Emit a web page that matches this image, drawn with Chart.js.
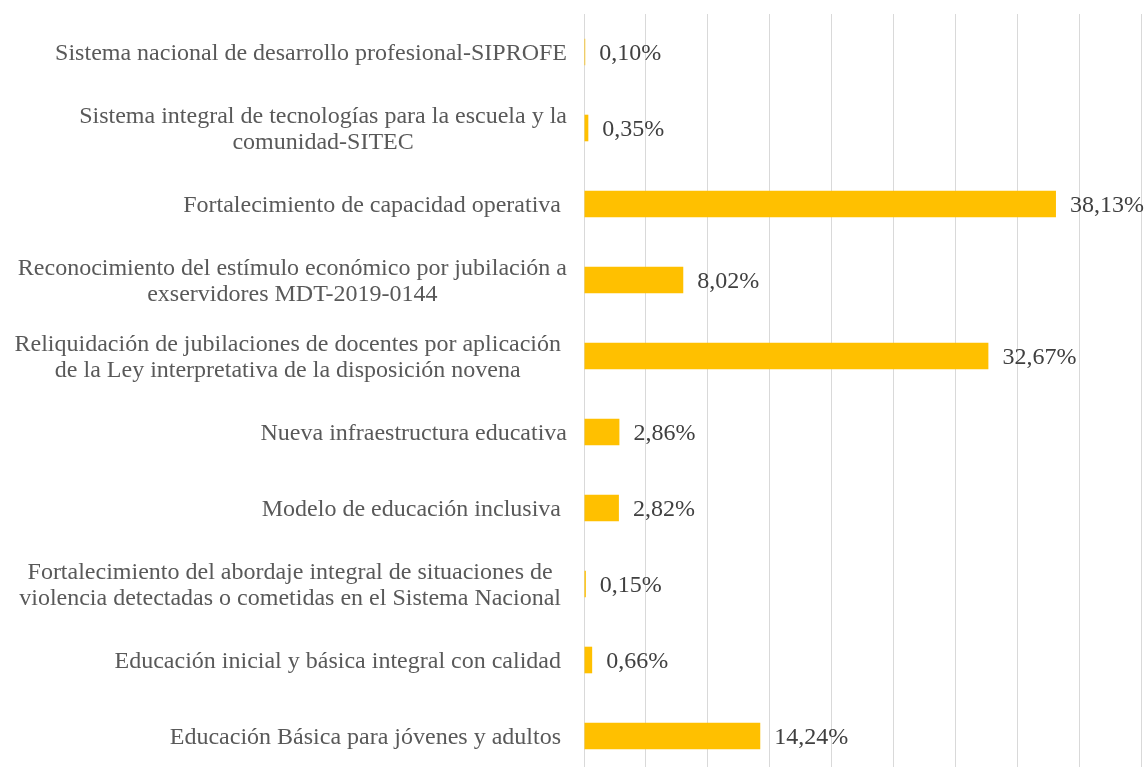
<!DOCTYPE html>
<html>
<head>
<meta charset="utf-8">
<script src="https://cdn.jsdelivr.net/npm/chart.js@4.4.1/dist/chart.umd.min.js"></script>
<style>
  html, body { margin: 0; padding: 0; background: #fff; overflow: hidden; }
  canvas { display: block; }
</style>
</head>
<body>
<canvas id="budgetChart" width="1146" height="774"></canvas>
<script>
// program names, one array per label (wrapped lines as in the original)
var categories = [
  ['Sistema nacional de desarrollo profesional-SIPROFE'],
  ['Sistema integral de tecnologías para la escuela y la', 'comunidad-SITEC'],
  ['Fortalecimiento de capacidad operativa '],
  ['Reconocimiento del estímulo económico por jubilación a', 'exservidores MDT-2019-0144'],
  ['Reliquidación de jubilaciones de docentes por aplicación ', 'de la Ley interpretativa de la disposición novena '],
  ['Nueva infraestructura educativa'],
  ['Modelo de educación inclusiva '],
  ['Fortalecimiento del abordaje integral de situaciones de ', 'violencia detectadas o cometidas en el Sistema Nacional '],
  ['Educación inicial y básica integral con calidad '],
  ['Educación Básica para jóvenes y adultos ']
];

// share of budget, in percent
var shares = [0.10, 0.35, 38.13, 8.02, 32.67, 2.86, 2.82, 0.15, 0.66, 14.24];

var FONT = '24px "Liberation Serif", "Times New Roman", serif';
var TEXT_COLOR = '#595959';
var LINE_HEIGHT = 26;

function pct(v) {
  return v.toFixed(2).replace('.', ',') + '%';
}

// y labels: block right aligned, lines centred inside the block
var categoryLabels = {
  id: 'categoryLabels',
  afterDraw: function (chart) {
    var ctx = chart.ctx;
    var yScale = chart.scales.y;
    var right = chart.chartArea.left - 17;
    ctx.save();
    ctx.font = FONT;
    ctx.fillStyle = TEXT_COLOR;
    ctx.textAlign = 'center';
    ctx.textBaseline = 'middle';
    categories.forEach(function (lines, i) {
      var y = yScale.getPixelForTick(i) + 2;
      var width = Math.max.apply(null, lines.map(function (l) { return ctx.measureText(l).width; }));
      var cx = right - width / 2;
      var top = y - (lines.length - 1) * LINE_HEIGHT / 2;
      lines.forEach(function (line, j) {
        ctx.fillText(line, cx, top + j * LINE_HEIGHT);
      });
    });
    ctx.restore();
  }
};

// value labels at the end of each bar
var valueLabels = {
  id: 'valueLabels',
  afterDatasetsDraw: function (chart) {
    var ctx = chart.ctx;
    var meta = chart.getDatasetMeta(0);
    ctx.save();
    ctx.font = FONT;
    ctx.fillStyle = '#404040';
    ctx.textAlign = 'left';
    ctx.textBaseline = 'middle';
    meta.data.forEach(function (bar, i) {
      ctx.fillText(pct(shares[i]), bar.x + 14, bar.y + 2);
    });
    ctx.restore();
  }
};

var budgetChart = new Chart('budgetChart', {
  type: 'bar',
  data: {
    labels: categories,
    datasets: [{
      data: shares,
      backgroundColor: '#FFC000',
      categoryPercentage: 1,
      barPercentage: 0.35
    }]
  },
  options: {
    indexAxis: 'y',
    responsive: false,
    animation: false,
    layout: {
      padding: { left: 576, right: 5, top: 14, bottom: 0 }
    },
    plugins: {
      legend: { display: false },
      tooltip: { enabled: false }
    },
    scales: {
      x: {
        min: 0,
        max: 45,
        ticks: { display: false, stepSize: 5 },
        grid: { color: '#D9D9D9', drawTicks: false },
        border: { display: false }
      },
      y: {
        ticks: { display: false },
        grid: { display: false },
        border: { display: false }
      }
    }
  },
  plugins: [categoryLabels, valueLabels]
});
</script>
</body>
</html>
